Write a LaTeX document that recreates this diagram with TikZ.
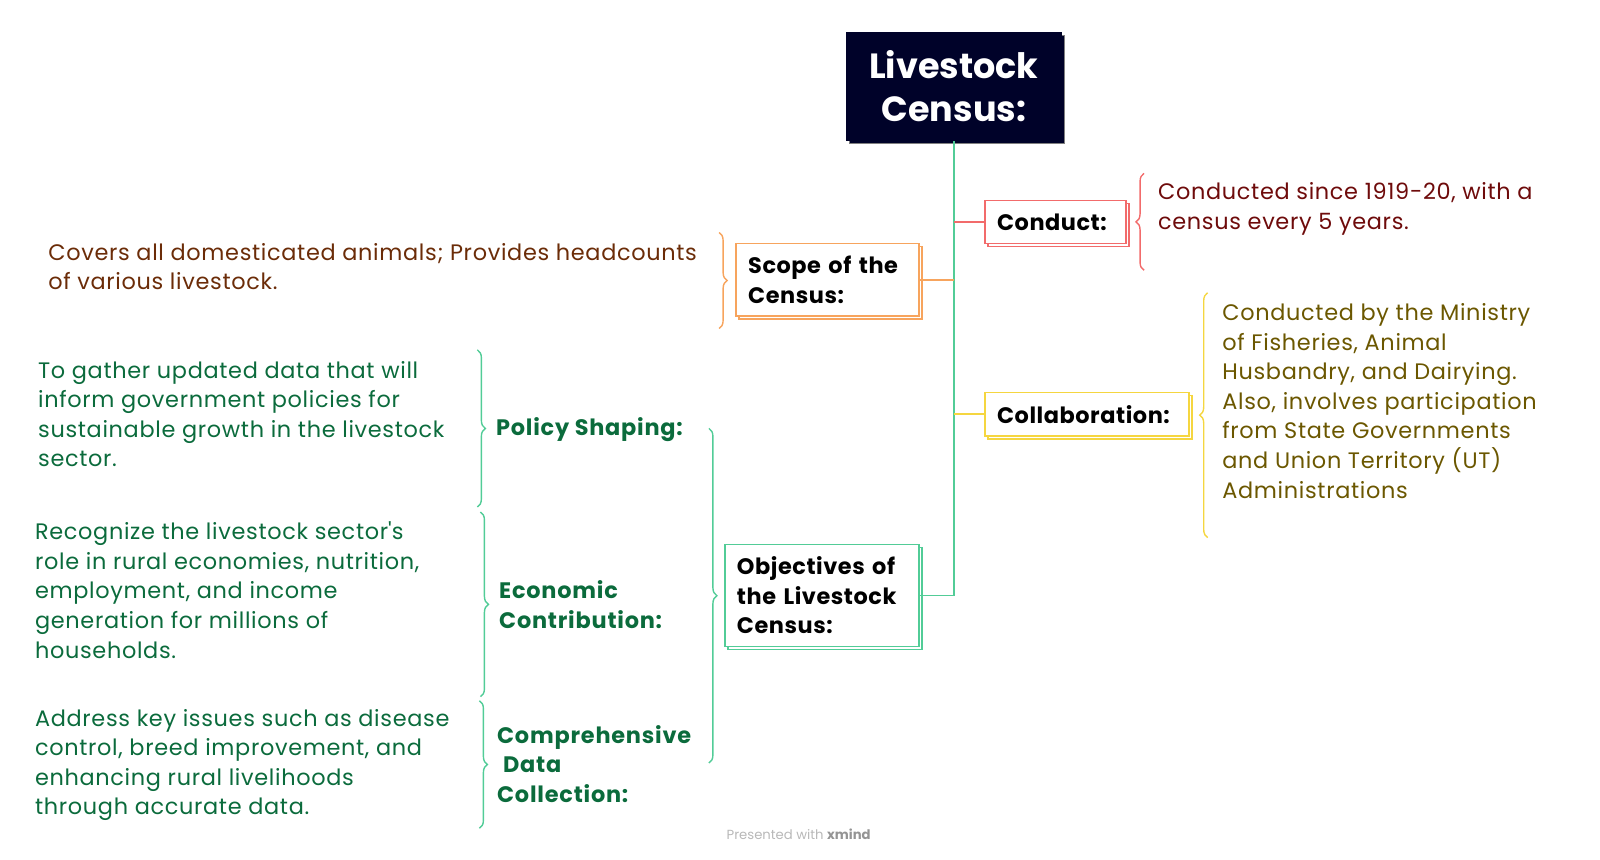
\documentclass[tikz,border=0pt]{standalone}
\usepackage{fontspec}
\setmainfont{Poppins}
\usepackage{tikz}
\usetikzlibrary{shadows,decorations.pathreplacing}
\definecolor{navy}{HTML}{000229}
\definecolor{trunkgreen}{HTML}{52CC97}
\definecolor{linered}{HTML}{F26B6B}
\definecolor{lineorange}{HTML}{F7A45D}
\definecolor{lineyellow}{HTML}{F5D640}
\definecolor{txtred}{HTML}{6E0B0B}
\definecolor{txtbrown}{HTML}{6B2C08}
\definecolor{txtolive}{HTML}{6B5700}
\definecolor{txtgreen}{HTML}{0B6B3C}

\begin{document}
\begin{tikzpicture}[x=0.51pt,y=-0.51pt,
  box/.style={draw,fill=white,line width=0.75pt,anchor=north west,align=left,
    inner xsep=6pt,inner ysep=0pt,font=\bfseries\fontsize{11.2}{14.8}\selectfont\addfontfeatures{LetterSpace=2.5}},
  twin/.style={copy shadow={shadow xshift=1.5pt,shadow yshift=-1.5pt,#1}},
  twin/.default={},
  note/.style={anchor=west,align=left,inner sep=0pt,font=\fontsize{11.2}{14.8}\selectfont\addfontfeatures{LetterSpace=3}},
  topic/.style={note,text=txtgreen,font=\bfseries\fontsize{11.2}{14.8}\selectfont\addfontfeatures{LetterSpace=3.5}},
  link/.style={line width=0.9pt},
  curly/.style={line width=0.7pt,decorate,decoration={brace,amplitude=4pt}}]

  \useasboundingbox (0,0) rectangle (1568.6,842.2);

  \node[box,fill=navy,draw=navy,text=white,align=center,twin={draw=gray},
    font=\bfseries\fontsize{17.5}{21.4}\selectfont,
    text width=95.6pt,minimum height=54pt] (census) at (829,31) {Livestock\\Census:};

  \node[box,draw=linered,twin,text width=58.4pt,minimum height=21.4pt] (conduct) at (965,196) {Conduct:};
  \node[box,draw=lineorange,twin,text width=79.3pt,minimum height=36.2pt] (scope) at (721,238) {Scope of the\\Census:};
  \node[box,draw=lineyellow,twin,text width=90pt,minimum height=21.9pt] (collab) at (965,384) {Collaboration:};
  \node[box,draw=trunkgreen,twin,text width=84.9pt,minimum height=51pt] (goals) at (710,533) {Objectives of\\the Livestock\\Census:};

  \draw[link,trunkgreen] (census.south) |- (goals.east);
  \draw[link,linered] (census.south |- conduct.west) -- (conduct.west);
  \draw[link,lineorange] (census.south |- scope.east) -- (scope.east);
  \draw[link,lineyellow] (census.south |- collab.west) -- (collab.west);

  \node[note,text=txtred] (conducttxt) at (1135,205) {Conducted since 1919-20, with a\\census every 5 years.};
  \node[note,text=txtbrown] (scopetxt) at (47,261.5) {Covers all domesticated animals; Provides headcounts\\of various livestock.};
  \node[note,text=txtolive] (collabtxt) at (1198,393) {Conducted by the Ministry\\of Fisheries, Animal\\Husbandry, and Dairying.\\Also, involves participation\\from State Governments\\and Union Territory (UT)\\Administrations};

  \node[topic] (policy) at (486,421) {Policy Shaping:};
  \node[topic] (econ) at (489,592.5) {Economic\\Contribution:};
  \node[topic] (data) at (487,749) {Comprehensive\\\hspace*{3pt}Data\\Collection:};

  \node[note,text=txtgreen] (policytxt) at (37,406) {To gather updated data that will\\inform government policies for\\sustainable growth in the livestock\\sector.};
  \node[note,text=txtgreen] (econtxt) at (34,578.5) {Recognize the livestock sector\textquotesingle s\\role in rural economies, nutrition,\\employment, and income\\generation for millions of\\households.};
  \node[note,text=txtgreen] (datatxt) at (34,750) {Address key issues such as disease\\control, breed improvement, and\\enhancing rural livelihoods\\through accurate data.};

  \draw[curly,linered] (1121.6,265) -- (1121.6,170);
  \draw[curly,lineorange] (705,228) -- (705,322);
  \draw[curly,lineyellow] (1184,527) -- (1184,287);
  \draw[curly,trunkgreen] (695,420) -- (695,748);
  \draw[curly,trunkgreen] (468,343) -- (468,497);
  \draw[curly,trunkgreen] (471,502) -- (471,683);
  \draw[curly,trunkgreen] (470,687) -- (470,812);

  \node[font=\fontsize{6.6}{8}\selectfont,text=black!28] (credit) at (783,818) {Presented with \textbf{\color{black!42}xmind}};
\end{tikzpicture}
\end{document}
